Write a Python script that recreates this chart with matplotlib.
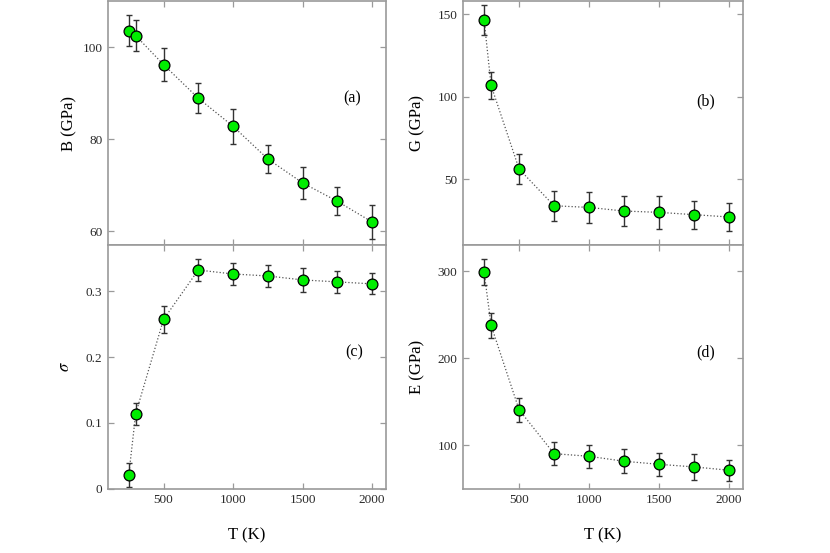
import matplotlib
matplotlib.use("Agg")
import matplotlib.pyplot as plt

plt.rcParams.update({
    "font.family": "serif",
    "font.serif": ["Liberation Serif", "DejaVu Serif"],
    "mathtext.fontset": "stix",
})

T = [250, 300, 500, 750, 1000, 1250, 1500, 1750, 2000]

B = [103.6, 102.5, 96.2, 88.9, 82.8, 75.7, 70.5, 66.5, 62.0]
B_err = [3.3, 3.4, 3.6, 3.2, 3.8, 3.0, 3.5, 3.0, 3.7]

G = [146.4, 106.8, 56.1, 33.8, 32.8, 30.6, 29.8, 28.4, 27.0]
G_err = [9.0, 8.0, 9.0, 9.0, 9.5, 9.0, 9.8, 8.5, 8.4]

SIGMA = [0.021, 0.114, 0.257, 0.332, 0.326, 0.323, 0.317, 0.314, 0.311]
SIGMA_err = [0.018, 0.017, 0.020, 0.017, 0.016, 0.017, 0.018, 0.017, 0.016]

E = [298.5, 237.7, 140.8, 90.4, 87.4, 81.7, 78.2, 75.2, 71.4]
E_err = [15.0, 14.5, 13.5, 13.0, 13.0, 14.0, 13.5, 14.8, 12.0]

XTICKS = [500, 1000, 1500, 2000]

SPINE = "#9a9a9a"

fig = plt.figure(figsize=(8.3, 5.53), dpi=100)

# [left, bottom, width, height] in figure fraction
ax_a = fig.add_axes([0.130, 0.557, 0.335, 0.441])
ax_c = fig.add_axes([0.130, 0.116, 0.335, 0.441])
ax_b = fig.add_axes([0.558, 0.557, 0.337, 0.441])
ax_d = fig.add_axes([0.558, 0.116, 0.337, 0.441])

panels = [
    (ax_a, B, B_err, "B (GPa)", (57, 110), [60, 80, 100], "(a)", (0.88, 0.60), -0.14),
    (ax_c, SIGMA, SIGMA_err, r"$\sigma$", (0, 0.37), [0, 0.1, 0.2, 0.3], "(c)", (0.885, 0.56), -0.155),
    (ax_b, G, G_err, "G (GPa)", (10, 158), [50, 100, 150], "(b)", (0.868, 0.59), -0.165),
    (ax_d, E, E_err, "E (GPa)", (50, 330), [100, 200, 300], "(d)", (0.868, 0.56), -0.165),
]

for ax, y, yerr, ylabel, ylim, yticks, tag, tag_pos, ylab_x in panels:
    ax.plot(T, y, linestyle=":", color="#555555", linewidth=0.9, zorder=1)
    ax.errorbar(T, y, yerr=yerr, fmt="none", ecolor="#333333",
                elinewidth=1.0, capsize=2.2, capthick=1.0, zorder=2)
    ax.plot(T, y, "o", markersize=7.8, markerfacecolor="#00ee00",
            markeredgecolor="black", markeredgewidth=0.9, linestyle="none", zorder=3)

    ax.set_xlim(100, 2100)
    ax.set_ylim(*ylim)
    ax.set_xticks(XTICKS)
    ax.set_yticks(yticks)
    if ax is ax_c:
        ax.set_yticklabels(["0", "0.1", "0.2", "0.3"])

    ax.tick_params(direction="in", length=4, width=0.9, color=SPINE,
                   labelsize=9.5, labelcolor="#2a2a2a",
                   top=True, right=True, pad=4)
    for sp in ax.spines.values():
        sp.set_color(SPINE)
        sp.set_linewidth(1.2)

    ax.set_ylabel(ylabel, fontsize=12, va="center")
    ax.yaxis.set_label_coords(ylab_x, 0.5)
    ax.text(tag_pos[0], tag_pos[1], tag, transform=ax.transAxes,
            ha="center", va="center", fontsize=11.5)

for ax in (ax_a, ax_b):
    ax.tick_params(labelbottom=False)

for ax in (ax_c, ax_d):
    ax.set_xlabel("T (K)", fontsize=12, va="center")
    ax.xaxis.set_label_coords(0.5, -0.19)

fig.savefig("out.png", dpi=100)
